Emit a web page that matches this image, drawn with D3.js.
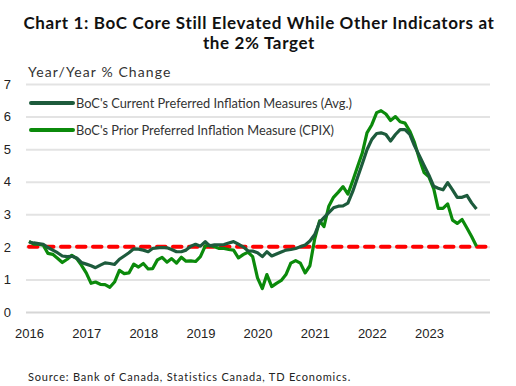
<!DOCTYPE html>
<html>
<head>
<meta charset="utf-8">
<script src="https://cdn.jsdelivr.net/npm/d3@7"></script>
<style>
  body { margin: 0; background: #fff; }
  svg { display: block; font-family: Lato, "Open Sans", sans-serif; }
  .grid line { stroke: #e3e3e3; stroke-width: 2; }
  .grid .domain { display: none; }
  .yax text, .xax text { font-size: 13px; fill: #222; }
</style>
</head>
<body>
<div class="chart"></div>
<script>
// monthly, Jan 2016 .. Nov 2023
const startYear = 2016;
const currentMeasures = [
  2.15, 2.12, 2.10, 2.08, 1.98, 1.90, 1.82, 1.72, 1.70, 1.71, 1.66, 1.52,
  1.47, 1.42, 1.36, 1.44, 1.51, 1.49, 1.46, 1.62, 1.72, 1.82, 1.94, 1.93,
  1.90, 1.85, 1.95, 1.97, 1.98, 1.97, 1.92, 1.85, 1.85, 1.90, 2.02, 2.08,
  2.02, 2.16, 2.03, 2.06, 2.06, 2.07, 2.12, 2.16, 2.08, 2.00, 1.88, 1.87,
  1.82, 1.70, 1.85, 1.72, 1.78, 1.84, 1.90, 1.92, 1.95, 2.00, 2.06, 2.18,
  2.38, 2.75, 2.90, 3.05, 3.20, 3.25, 3.26, 3.34, 3.70, 4.12, 4.55, 4.98,
  5.30, 5.48, 5.50, 5.45, 5.25, 5.45, 5.60, 5.60, 5.45, 5.10, 4.80, 4.50,
  4.20, 3.86, 3.80, 3.75, 3.97, 3.75, 3.52, 3.52, 3.58, 3.35, 3.16
];
const cpix = [
  2.17, 2.08, 2.08, 2.05, 1.80, 1.77, 1.65, 1.52, 1.62, 1.74, 1.64, 1.44,
  1.20, 0.88, 0.92, 0.85, 0.84, 0.76, 0.92, 1.28, 1.18, 1.20, 1.47, 1.38,
  1.49, 1.32, 1.33, 1.60, 1.68, 1.53, 1.64, 1.50, 1.68, 1.56, 1.57, 1.55,
  1.70, 2.03, 2.05, 2.00, 1.95, 1.95, 1.92, 1.90, 1.66, 1.76, 1.84, 1.70,
  1.05, 0.72, 1.15, 0.78, 0.88, 0.97, 1.15, 1.50, 1.58, 1.50, 1.20, 1.42,
  2.25, 2.80, 2.62, 3.25, 3.52, 3.68, 3.85, 3.62, 4.03, 4.45, 4.88, 5.50,
  5.75, 6.12, 6.18, 6.08, 5.88, 6.00, 5.84, 5.80, 5.55, 5.20, 4.70, 4.28,
  4.15, 3.78, 3.18, 3.18, 3.32, 2.82, 2.72, 2.84, 2.58, 2.32, 2.02
];
const targetRate = 2;
const targetSpan = [new Date(2016, 0, 1), new Date(2024, 0, 1)];
const yTicks = [0, 1, 2, 3, 4, 5, 6, 7];
const yearTicks = [2016, 2017, 2018, 2019, 2020, 2021, 2022, 2023];

const seriesNames = [
  "BoC's Current Preferred Inflation Measures (Avg.)",
  "BoC's Prior Preferred Inflation Measure (CPIX)"
];
const seriesColors = ["#1d5b3c", "#0b8a0b"];

const W = 516, H = 386;
const plotL = 26, plotR = 490, plotT = 84, plotB = 312;

const svg = d3.select(".chart").append("svg")
  .attr("width", W).attr("height", H);

const x = d3.scaleTime()
  .domain([new Date(2016, 0, 1), new Date(2024, 0, 1)])
  .range([29, 486]);
const y = d3.scaleLinear().domain([0, 7]).range([plotB, plotT]);

// title
const title = svg.append("text")
  .attr("text-anchor", "middle")
  .attr("font-weight", "bold")
  .attr("font-size", 17)
  .attr("letter-spacing", 0.64)
  .attr("fill", "#111");
title.append("tspan").attr("x", 259).attr("y", 29)
  .text("Chart 1: BoC Core Still Elevated While Other Indicators at");
title.append("tspan").attr("x", 259).attr("y", 49)
  .text("the 2% Target");

svg.append("text")
  .attr("x", 28).attr("y", 77)
  .attr("font-size", 14).attr("fill", "#333")
  .attr("letter-spacing", 1.1)
  .text("Year/Year % Change");

// gridlines + y labels
const yAxis = svg.append("g")
  .attr("class", "grid yax")
  .attr("transform", `translate(${plotL},0)`)
  .call(d3.axisLeft(y).tickValues(yTicks).tickFormat(d3.format("d"))
    .tickSize(-(plotR - plotL)).tickPadding(15));
yAxis.selectAll(".tick line").filter(d => d === 0).style("stroke", "#d6d6d6");

// x axis labels
const xAxis = svg.append("g")
  .attr("class", "xax")
  .attr("transform", `translate(0,${plotB})`)
  .call(d3.axisBottom(x)
    .tickValues(yearTicks.map(yr => new Date(yr, 0, 1)))
    .tickFormat(d3.timeFormat("%Y"))
    .tickSize(0).tickPadding(17));
xAxis.select(".domain").remove();

// target line
svg.append("line")
  .attr("x1", x(targetSpan[0])).attr("x2", x(targetSpan[1]))
  .attr("y1", y(targetRate)).attr("y2", y(targetRate))
  .attr("stroke", "#ff0000").attr("stroke-width", 4)
  .attr("stroke-dasharray", "8.5 7.5").attr("stroke-linecap", "round");

const line = d3.line()
  .x((d, i) => x(new Date(startYear, i, 1)))
  .y(d => y(d));

[cpix, currentMeasures].forEach((vals, k) => {
  svg.append("path")
    .datum(vals)
    .attr("fill", "none")
    .attr("stroke", seriesColors[1 - k])
    .attr("stroke-width", 3.2)
    .attr("stroke-linejoin", "round")
    .attr("d", line);
});

// legend
seriesNames.forEach((name, i) => {
  const ly = 103 + i * 27;
  svg.append("line")
    .attr("x1", 31).attr("x2", 73).attr("y1", ly).attr("y2", ly)
    .attr("stroke", seriesColors[i]).attr("stroke-width", 4)
    .attr("stroke-linecap", "round");
  svg.append("text")
    .attr("x", 76).attr("y", ly + 4.5)
    .attr("font-size", 12.8).attr("fill", "#333")
    .text(name);
});

svg.append("text")
  .attr("x", 28).attr("y", 381)
  .attr("font-size", 11).attr("fill", "#222")
  .attr("letter-spacing", 0.8)
  .text("Source: Bank of Canada, Statistics Canada, TD Economics.");
</script>
</body>
</html>
